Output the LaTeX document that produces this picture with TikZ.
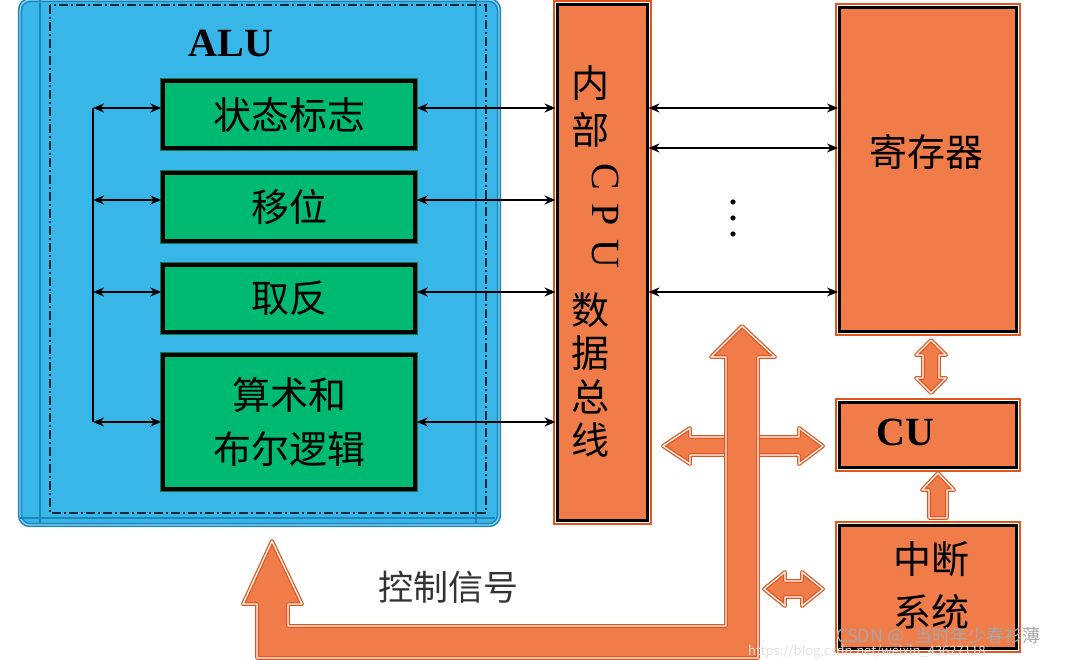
\documentclass[tikz,border=0pt]{standalone}
\usepackage{fontspec}
\setmainfont{Liberation Serif}
\newfontfamily\cjk{Noto Sans CJK SC}
\usetikzlibrary{arrows.meta}
\definecolor{blueF}{HTML}{37B6E7}
\definecolor{blueD}{HTML}{1C86BC}
\definecolor{blueL}{HTML}{8FD6F2}
\definecolor{greenF}{HTML}{00BA72}
\definecolor{greenD}{HTML}{0B7A4C}
\definecolor{orangeF}{HTML}{F07C4A}
\definecolor{orangeD}{HTML}{E2561F}
\definecolor{txtgray}{HTML}{333333}
\tikzset{
  greenbox/.style={fill=greenF, draw=black, line width=3.5pt, inner sep=0pt,
    preaction={draw=greenD, line width=6pt}, font=\cjk\fontsize{38}{54}\selectfont, align=center},
  orangebox/.style={fill=orangeF, draw=black, line width=3pt, inner sep=0pt,
    preaction={draw=orangeD, line width=9pt}, preaction={draw=white, line width=5pt}},
  cjktext/.style={font=\cjk\fontsize{38}{54}\selectfont, inner sep=0pt},
  latintext/.style={font=\bfseries\fontsize{40}{44}\selectfont, inner sep=0pt},
  biarrow/.style={line width=2.6pt, {Stealth[length=11pt,width=9pt]}-{Stealth[length=11pt,width=9pt]}},
  fatarrow/.style={fill=orangeF, draw=orangeD, line width=1.3pt, double=white, double distance=1.3pt, line join=round},
}
\begin{document}
\begin{tikzpicture}[x=1pt,y=-1pt]
\useasboundingbox (0,0) rectangle (1074,660);
% ALU container
\path[fill=blueF, draw=blueD, line width=1.6pt, double=blueL, double distance=1.2pt,
  rounded corners=10pt] (20,0) rectangle (499,525);
\draw[blueD, line width=1.4pt] (40,0) -- (40,524);
\draw[blueD, line width=1.4pt] (476,0) -- (476,524);
\draw[blueD, line width=1.2pt] (20,518) -- (495,518);
\draw[black!70!blueD, line width=1.6pt, dash pattern=on 9pt off 3pt on 2pt off 3pt]
  (50,5) rectangle (486,513);
\node[latintext] (alu) at (231,43) {ALU};
% green boxes
\node[greenbox, minimum width=252pt, minimum height=67pt] (b1) at (289,114.5) {状态标志};
\node[greenbox, minimum width=252pt, minimum height=68pt] (b2) at (289,207) {移位};
\node[greenbox, minimum width=252pt, minimum height=67pt] (b3) at (289,298.5) {取反};
\node[greenbox, minimum width=252pt, minimum height=134pt] (b4) at (289,422) {算术和\\布尔逻辑};
% left bus line
\coordinate (l1) at (93,108);
\coordinate (l2) at (93,200);
\coordinate (l3) at (93,292);
\coordinate (l4) at (93,422);
\draw[line width=2.6pt] (l1) -- (l4);
\foreach \i in {1,2,3,4}{
  \draw[biarrow] (l\i) -- (b\i.west |- l\i);
}
% internal CPU data bus
\node[orangebox, minimum width=90pt, minimum height=515pt] (bus) at (602,262.5) {};
\node[cjktext] (n1) at (590,83) {内};
\node[cjktext] (n2) at (590,130) {部};
\node[font=\fontsize{40}{44}\selectfont, inner sep=0pt, rotate=-90] (cpu) at (606,216) {C\,\,P\,\,U};
\node[cjktext] (n3) at (590,310) {数};
\node[cjktext] (n4) at (590,353) {据};
\node[cjktext] (n5) at (590,397) {总};
\node[cjktext] (n6) at (590,440) {线};
\foreach \i/\y in {1/108,2/200,3/292,4/422}{
  \coordinate (r\i) at (557,\y);
  \draw[biarrow] (b\i.east |- r\i) -- (bus.west |- r\i);
}
% registers
\node[orangebox, minimum width=177pt, minimum height=324pt] (reg) at (928,170) {};
\node[cjktext] (regt) at (926,152) {寄存器};
\foreach \y/\n in {108/a,148/b,292/c}{
  \coordinate (q\n) at (700,\y);
  \draw[biarrow] (bus.east |- q\n) -- (reg.west |- q\n);
}
\fill (733,202) circle (2.6pt);
\fill (733,218) circle (2.6pt);
\fill (733,234) circle (2.6pt);
% CU
\node[orangebox, minimum width=177pt, minimum height=65pt] (cu) at (927.5,434.5) {};
\node[latintext] (cut) at (905,432) {CU};
% interrupt system
\node[orangebox, minimum width=177pt, minimum height=123pt] (intr) at (927.5,586.5) {};
\node[cjktext, align=center, font=\cjk\fontsize{38}{53}\selectfont] (intrt) at (931,585) {中断\\系统};
% fat arrows
\path[fatarrow] (931,340) -- (946,355) -- (939,355) -- (939,378) -- (946,378) -- (931,393)
  -- (916,378) -- (923,378) -- (923,355) -- (916,355) -- cycle;
\path[fatarrow] (938,473) -- (954,490) -- (947,490) -- (947,518) -- (929,518) -- (929,490)
  -- (922,490) -- cycle;
\path[fatarrow] (663,446) -- (690,428) -- (690,437) -- (799,437) -- (799,428) -- (823,446)
  -- (799,464) -- (799,455) -- (690,455) -- (690,464) -- cycle;
\path[fatarrow] (764,589) -- (785,572) -- (785,581) -- (802,581) -- (802,572) -- (823,589)
  -- (802,606) -- (802,597) -- (785,597) -- (785,606) -- cycle;
% control signal arrow
\path[fatarrow] (272,541) -- (302,604) -- (288,604) -- (288,626) -- (726,626) -- (726,357)
  -- (711,357) -- (742,326) -- (775,357) -- (758,357) -- (758,658) -- (257,658)
  -- (257,604) -- (243,604) -- cycle;
\node[cjktext, text=txtgray, font=\cjk\fontsize{35}{40}\selectfont] (ctrl) at (448,587) {控制信号};
% watermark
\node[inner sep=0pt, text=gray!70, font=\cjk\fontsize{18}{20}\selectfont, anchor=west] (wm) at (836,636) {CSDN @\_当时年少春衫薄};
\node[inner sep=0pt, text=gray!25, font=\cjk\fontsize{13}{15}\selectfont, anchor=west] (wm2) at (748,652) {https://blog.csdn.net/weixin\_43627118};
\end{tikzpicture}
\end{document}
